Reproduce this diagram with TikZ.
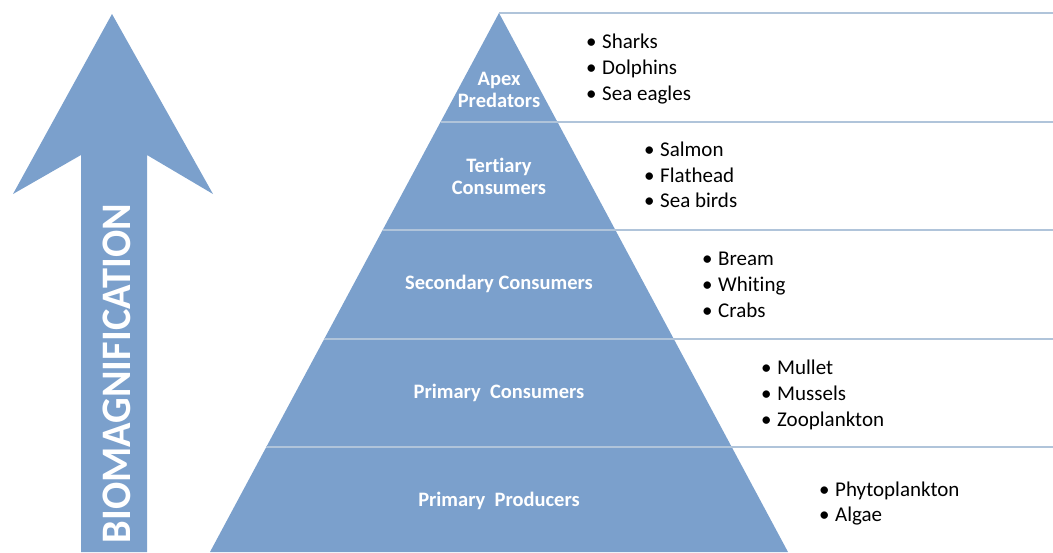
\documentclass[tikz,border=0pt]{standalone}
\usepackage{fontspec}
\setmainfont[Ligatures=NoCommon]{Carlito}
\definecolor{pyr}{RGB}{123,160,204}
\definecolor{sep}{RGB}{176,196,218}
\tikzset{
  band/.style={text=white, font=\bfseries\fontsize{20.5}{22}\selectfont, align=center, inner sep=0pt},
  items/.style={text=black, font=\fontsize{21}{25.7}\selectfont, align=left, anchor=west, inner sep=0pt},
  sepline/.style={draw=sep, line width=1.5pt}
}
\newcommand{\itm}[1]{\makebox[16pt][l]{•}#1}
\begin{document}
\begin{tikzpicture}[x=1pt,y=-1pt]
\useasboundingbox (0,0) rectangle (1053,552);
% arrow
\fill[pyr] (112,14) -- (213,194) -- (147,155) -- (147,552) -- (81,552) -- (81,155) -- (13,194) -- cycle;
\node[text=white, font=\bfseries\fontsize{42}{42}\selectfont, rotate=90, inner sep=0pt] (bio) at (116.5,373.5) {\scalebox{0.96}[1]{BIOMAGNIFICATION}};
% pyramid
\fill[pyr] (499,13) -- (788,552) -- (210,552) -- cycle;
\coordinate (t0) at (499,13);
\coordinate (t1) at (440.6,122);
\coordinate (t2) at (382.6,230);
\coordinate (t3) at (324.2,339);
\coordinate (t4) at (266.3,447);
\coordinate (r0) at (1053,13);
\coordinate (r1) at (1053,122);
\coordinate (r2) at (1053,230);
\coordinate (r3) at (1053,339);
\coordinate (r4) at (1053,447);
\foreach \i in {0,...,4} \draw[sepline] (t\i) -- (r\i);
% band labels
\node[band] (apex) at (499,90) {Apex\\Predators};
\node[band] (tert) at (499,176) {Tertiary\\Consumers};
\node[band] (sec) at (499,284) {Secondary Consumers};
\node[band] (pc) at (499,393) {Primary\ \ Consumers};
\node[band] (pp) at (499,501) {Primary\ \ Producers};
% lists
\node[items] (l1) at (586,69) {\itm{Sharks}\\\itm{Dolphins}\\\itm{Sea eagles}};
\node[items] (l2) at (644,175) {\itm{Salmon}\\\itm{Flathead}\\\itm{Sea birds}};
\node[items] (l3) at (702,285) {\itm{Bream}\\\itm{Whiting}\\\itm{Crabs}};
\node[items] (l4) at (761,395) {\itm{Mullet}\\\itm{Mussels}\\\itm{Zooplankton}};
\node[items] (l5) at (819,503.5) {\itm{Phytoplankton}\\\itm{Algae}};
\end{tikzpicture}
\end{document}
